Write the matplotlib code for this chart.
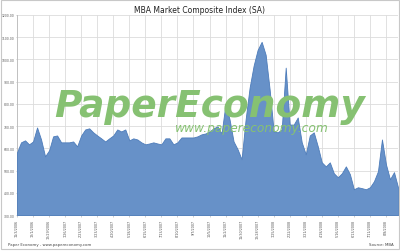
import matplotlib
matplotlib.use('Agg')
import matplotlib.pyplot as plt
import numpy as np
import pandas as pd

# weekly MBA market composite index (SA)
start_date = '2006-11-03'
index_values = [582, 627, 636, 618, 631, 694, 640, 564, 591, 654,
                658, 627, 627, 627, 631, 609, 658, 685, 690, 672,
                658, 645, 631, 645, 658, 685, 676, 685, 636, 645,
                640, 627, 618, 622, 627, 622, 618, 645, 645, 618,
                627, 649, 649, 649, 649, 654, 663, 667, 676, 690,
                699, 667, 800, 730, 631, 596, 551, 730, 873, 972,
                1043, 1079, 1021, 864, 676, 672, 685, 963, 707, 707,
                739, 627, 573, 658, 672, 609, 537, 519, 537, 488,
                470, 488, 519, 484, 416, 425, 421, 416, 425, 452,
                497, 640, 528, 461, 493, 425]

y_ticks = [300, 400, 500, 600, 700, 800, 900, 1000, 1100, 1200]
label_every = 4

dates = pd.date_range(start_date, periods=len(index_values), freq='7D')
tick_pos = np.arange(0, len(index_values), label_every)
tick_labels = [f'{d.month}/{d.day}/{d.year}' for d in dates[tick_pos]]

fig = plt.figure(figsize=(4.0, 2.53), dpi=100)
fig.patch.set_facecolor('white')
ax = fig.add_axes([0.0425, 0.146, 0.9525, 0.791])

x = np.arange(len(index_values))
ax.fill_between(x, 300, index_values, color='#6791c8', linewidth=0.6,
                edgecolor='#4d7cba', zorder=3)

ax.set_xlim(0, len(index_values) - 1)
ax.set_ylim(300, 1200)
ax.set_yticks(y_ticks)
ax.set_yticklabels([f'{v:.2f}' for v in y_ticks], fontsize=2.2, color='#555555')
ax.set_xticks(tick_pos)
ax.set_xticklabels(tick_labels, rotation=90, fontsize=2.4, color='#555555')
ax.tick_params(axis='y', length=0.8, width=0.4, color='#aaaaaa', pad=0.8)
ax.tick_params(axis='x', length=1.2, width=0.4, color='#aaaaaa', pad=1.5)

ax.grid(True, color='#dcdcdc', linewidth=0.6, zorder=0)
ax.set_axisbelow(True)
for side in ['top', 'right']:
    ax.spines[side].set_visible(False)
for side in ['left', 'bottom']:
    ax.spines[side].set_color('#bbbbbb')
    ax.spines[side].set_linewidth(0.6)

fig.text(0.5, 0.958, 'MBA Market Composite Index (SA)', ha='center', va='center',
         fontsize=5.5, color='#222222')

# watermark
fig.text(0.525, 0.578, 'PaperEconomy', ha='center', va='center', fontsize=27,
         fontstyle='italic', fontweight='bold', color='#86c172', zorder=10)
fig.text(0.63, 0.494, 'www.papereconomy.com', ha='center', va='center', fontsize=8.8,
         fontstyle='italic', color='#86c172', zorder=10)

fig.text(0.02, 0.03, 'Paper Economy - www.papereconomy.com', ha='left', va='center',
         fontsize=2.8, color='#444444')
fig.text(0.985, 0.03, 'Source: MBA', ha='right', va='center', fontsize=2.8,
         color='#444444')

border = plt.Rectangle((0.002, 0.012), 0.996, 0.984, transform=fig.transFigure,
                       fill=False, edgecolor='#c8c8c8', linewidth=0.8)
fig.patches.append(border)

fig.savefig('out.png', dpi=100, facecolor='white')
